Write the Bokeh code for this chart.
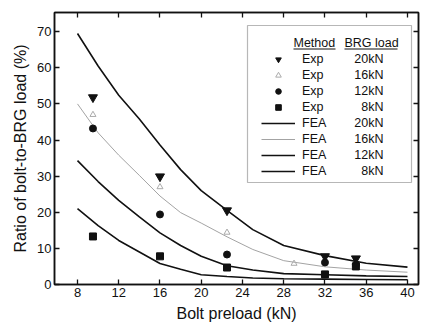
from bokeh.plotting import figure
from bokeh.models import (Range1d, LinearAxis, FixedTicker, Label, BoxAnnotation,
                          Legend, LegendItem)
from bokeh.embed import file_html
from bokeh.resources import INLINE

# ---------------- data ----------------
x_ticks = [8, 12, 16, 20, 24, 28, 32, 36, 40]
y_ticks = [0, 10, 20, 30, 40, 50, 60, 70]

exp_x = [9.5, 16, 22.5, 32, 35]
exp_20 = [51.8, 29.9, 20.5, 7.8, 7.2]
exp_16_x = [9.5, 16, 22.5, 29, 35]
exp_16 = [47.0, 27.0, 14.4, 5.8, 5.3]
exp_12 = [43.2, 19.4, 8.3, 6.1, 5.5]
exp_8 = [13.3, 7.8, 4.7, 2.8, 5.0]

fea_x = [8, 10, 12, 14, 16, 18, 20, 22.5, 25, 28, 32, 36, 40]
fea_20 = [69.5, 60.5, 52.4, 45.8, 38.6, 31.8, 26.0, 20.5, 15.2, 10.8, 8.0, 5.9, 4.8]
fea_16 = [50.0, 42.0, 35.8, 30.2, 24.5, 19.9, 17.0, 13.2, 9.7, 6.6, 4.9, 4.0, 3.4]
fea_12 = [34.3, 28.5, 23.3, 18.7, 14.3, 10.8, 7.8, 5.2, 4.0, 3.0, 2.7, 2.4, 2.2]
fea_8 = [21.0, 16.3, 12.2, 9.0, 5.8, 4.2, 2.7, 2.2, 1.8, 1.6, 1.5, 1.4, 1.3]

loads = ["20kN", "16kN", "12kN", "8kN"]

FONT = "Liberation Sans"
INK = "#111111"

p = figure(frame_width=364, frame_height=272,
           x_range=Range1d(5.77, 41.07), y_range=Range1d(0, 75.3),
           output_backend="svg", toolbar_location=None,
           min_border_left=54, min_border_right=8, min_border_top=12, min_border_bottom=0)
p.grid.visible = False
p.outline_line_color = INK
p.outline_line_width = 1.5
p.background_fill_color = "white"
p.border_fill_color = "white"

def style_axis(ax, ticks, show_labels):
    ax.ticker = FixedTicker(ticks=ticks, minor_ticks=[])
    ax.major_tick_in = 5
    ax.major_tick_out = 0
    ax.minor_tick_in = 0
    ax.minor_tick_out = 0
    ax.major_tick_line_color = INK
    ax.major_tick_line_width = 1.3
    ax.axis_line_color = INK
    ax.axis_line_width = 1.5
    ax.major_label_text_font = FONT
    ax.major_label_text_font_size = "13px"
    ax.major_label_text_color = INK
    if not show_labels:
        ax.major_label_overrides = {t: "" for t in ticks}
        ax.major_label_standoff = 0

xa = p.xaxis[0]
ya = p.yaxis[0]
style_axis(xa, x_ticks, True)
style_axis(ya, y_ticks, True)
xa.major_label_standoff = 3
ya.major_label_standoff = 3
xa.axis_label = "Bolt preload (kN)"
ya.axis_label = "Ratio of bolt-to-BRG load (%)"
for ax in (xa, ya):
    ax.axis_label_text_font = FONT
    ax.axis_label_text_font_size = "16px"
    ax.axis_label_text_font_style = "normal"
    ax.axis_label_text_color = INK
xa.axis_label_standoff = 5
ya.axis_label_standoff = 5

top = LinearAxis()
style_axis(top, x_ticks, False)
p.add_layout(top, "above")
right = LinearAxis()
style_axis(right, y_ticks, False)
p.add_layout(right, "right")

# ---------------- FEA curves ----------------
l20 = p.line(fea_x, fea_20, line_color=INK, line_width=1.6)
l16 = p.line(fea_x, fea_16, line_color="#999999", line_width=0.9)
l12 = p.line(fea_x, fea_12, line_color=INK, line_width=1.6)
l8 = p.line(fea_x, fea_8, line_color=INK, line_width=1.6)

# ---------------- experiments ----------------
s20 = p.scatter(exp_x, exp_20, marker="inverted_triangle", size=9, color=INK)
s16 = p.scatter(exp_16_x, exp_16, marker="triangle", size=6, fill_color=None,
                line_color="#ababab", line_width=1)
s12 = p.scatter(exp_x, exp_12, marker="circle", size=7, color=INK)
s8 = p.scatter(exp_x, exp_8, marker="square", size=7, color=INK)

# ---------------- legend (layout in screen px relative to frame) ----------------
FB = 284  # page y of frame bottom
FL = 54   # page x of frame left
def fx(px):
    return px - FL
def fy(py):
    return FB - py

box = BoxAnnotation(left=fx(247), right=fx(411), top=fy(25), bottom=fy(182),
                    left_units="screen", right_units="screen",
                    top_units="screen", bottom_units="screen",
                    fill_color="white", fill_alpha=1.0,
                    line_color=INK, line_width=1.2)
p.add_layout(box)

items = [LegendItem(label="Exp", renderers=[r]) for r in (s20, s16, s12, s8)]
items += [LegendItem(label="FEA", renderers=[r]) for r in (l20, l16, l12, l8)]
ROW = 16
FIRST = 58.5
leg = Legend(items=items, location=(fx(261), fy(FIRST - 7 + 8 * 14 + 7 * 2)),
             padding=0, margin=0, spacing=2, glyph_width=34, glyph_height=14,
             label_height=14, label_standoff=7, border_line_color=None,
             background_fill_alpha=0, label_text_font=FONT,
             label_text_font_size="12.5px", label_text_color=INK)
p.add_layout(leg)

hdr_kw = dict(x_units="screen", y_units="screen", text_font=FONT,
              text_font_size="12.5px", text_color=INK, text_baseline="middle")
p.add_layout(Label(x=fx(293), y=fy(42), text="Method", **hdr_kw))
p.add_layout(Label(x=fx(344), y=fy(42), text="BRG load", **hdr_kw))
for left, right_ in ((293, 335), (344, 397)):
    p.add_layout(BoxAnnotation(left=fx(left), right=fx(right_), top=fy(48), bottom=fy(49),
                               left_units="screen", right_units="screen",
                               top_units="screen", bottom_units="screen",
                               fill_color=INK, fill_alpha=1.0, line_color=None))
for i in range(8):
    p.add_layout(Label(x=fx(383), y=fy(FIRST + ROW * i), text=loads[i % 4],
                       text_align="right", **hdr_kw))

open("out.html", "w").write(file_html(p, INLINE))
